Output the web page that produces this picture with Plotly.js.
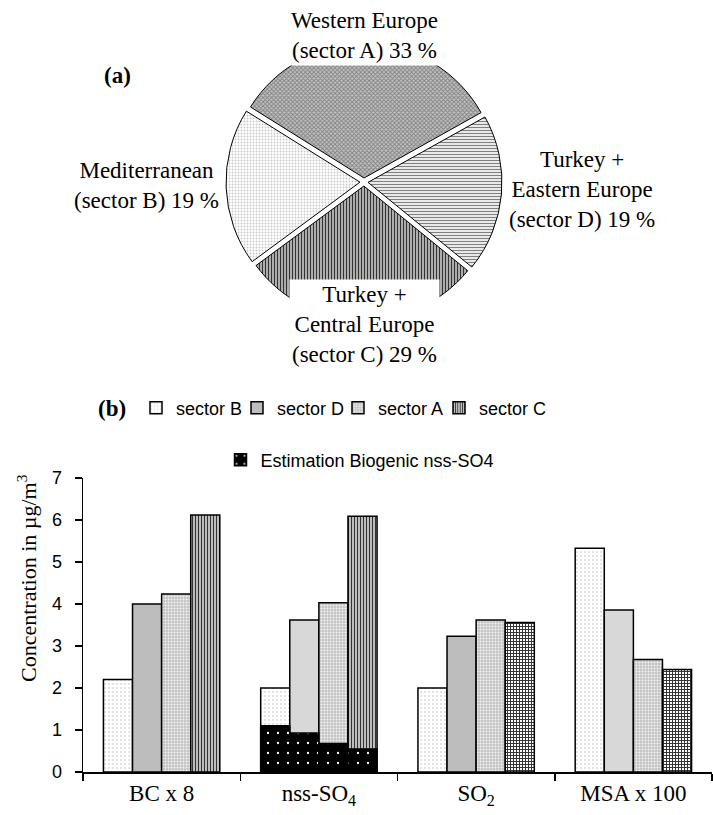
<!DOCTYPE html>
<html><head><meta charset="utf-8">
<script src="https://cdn.plot.ly/plotly-3.0.1.min.js"></script>
<style>html,body{margin:0;padding:0;background:#fff}#chart{width:713px;height:815px}</style>
</head><body><div id="chart"></div>
<script>
// ---- Pie (a) data ----
const pieLabels = ['Western Europe', 'Turkey + Eastern Europe', 'Turkey + Central Europe', 'Mediterranean'];
const pieSectors = ['A', 'D', 'C', 'B'];
const pieValues = [33, 19, 29, 19];
const pieTexts = [
  'Western Europe<br>(sector A) 33 %',
  'Turkey +<br>Eastern Europe<br>(sector D) 19 %',
  'Turkey +<br>Central Europe<br>(sector C) 29 %',
  'Mediterranean<br>(sector B) 19 %'
];

// ---- Bar (b) data ----
const categories = ['BC x 8', 'nss-SO<sub>4</sub>', 'SO<sub>2</sub>', 'MSA x 100'];
const sectorB = [2.2, 2.0, 2.0, 5.33];
const sectorD = [4.0, 3.62, 3.23, 3.86];
const sectorA = [4.24, 4.03, 3.62, 2.68];
const sectorC = [6.12, 6.09, 3.56, 2.44];
const biogenicCategory = 'nss-SO<sub>4</sub>';
const biogenic = [1.1, 0.93, 0.68, 0.55]; // sector B, D, A, C
const yTicks = [0, 1, 2, 3, 4, 5, 6, 7];

const W = 713, H = 815;
const px = x => x / W, py = y => 1 - y / H;

const serif = 'Liberation Serif, Times New Roman, serif';
const sans = 'Liberation Sans, Arial, sans-serif';

const pie = {
  type: 'pie',
  labels: pieLabels,
  values: pieValues,
  sort: false,
  direction: 'clockwise',
  rotation: -58,
  pull: 0.03,
  textinfo: 'none',
  hoverinfo: 'none',
  showlegend: false,
  domain: {x: [px(226), px(502)], y: [py(320), py(44)]},
  marker: {
    colors: ['#bbbbbb', '#ffffff', '#ffffff', '#ffffff'],
    line: {color: '#000', width: 1},
    pattern: {
      shape: ['x', '-', '|', '.'],
      fgcolor: ['#808080', '#808080', '#333333', '#c8c8c8'],
      bgcolor: ['#c4c4c4', '#ffffff', '#ffffff', '#ffffff'],
      size: [3, 3, 3, 3],
      solidity: [0.5, 0.45, 0.6, 0.3]
    }
  }
};

const lineSpec = {color: '#000', width: 1.5};
const mk = (name, vals, marker) => ({
  type: 'bar', name: name, x: categories, y: vals,
  offsetgroup: name, legend: 'legend', hoverinfo: 'none',
  marker: Object.assign({line: lineSpec}, marker)
});

const trB = mk('sector B', sectorB, {
  color: '#ffffff',
  pattern: {shape: '.', fgcolor: '#dadada', bgcolor: '#ffffff', size: 4, solidity: 0.2}
});
const trD = mk('sector D', sectorD, {
  color: ['#bdbdbd', '#d8d8d8', '#bdbdbd', '#d8d8d8']
});
const trA = mk('sector A', sectorA, {
  color: '#c8c8c8',
  pattern: {shape: '.', fgcolor: '#f4f4f4', bgcolor: '#c4c4c4', size: 3, solidity: 0.35}
});
const trC = mk('sector C', sectorC, {
  color: '#ffffff',
  pattern: {shape: ['|', '|', '+', '+'], fgcolor: '#333333', bgcolor: '#ffffff', size: 3, solidity: 0.55}
});

// invisible spacer entry so the last legend label is not clipped
const spacer = {type: 'bar', name: ' ', x: [categories[0]], y: [0], offsetgroup: 'sector B',
  legend: 'legend', hoverinfo: 'none', marker: {color: 'rgba(0,0,0,0)', line: {width: 0}}};

const groups = ['sector B', 'sector D', 'sector A', 'sector C'];
const bioTraces = groups.map((g, i) => ({
  type: 'bar', name: 'Estimation Biogenic nss-SO4', x: [biogenicCategory], y: [biogenic[i]],
  offsetgroup: g, legend: 'legend2', showlegend: i === 0, hoverinfo: 'none',
  marker: {color: '#000', line: {color: '#000', width: 1.5},
           pattern: {shape: '.', fgcolor: '#ffffff', bgcolor: '#000000', size: 10, solidity: 0.04}}
}));

const annFont = {family: serif, size: 23, color: '#000'};
const annotations = [
  {text: pieTexts[0], x: px(364), y: py(36)},
  {text: pieTexts[1], x: px(582), y: py(189)},
  {text: pieTexts[2], x: px(364), y: py(325)},
  {text: pieTexts[3], x: px(146), y: py(185)}
].map(a => Object.assign({xref: 'paper', yref: 'paper', showarrow: false, xanchor: 'center', yanchor: 'middle',
  bgcolor: '#ffffff', font: annFont, borderpad: 2}, a));
annotations.push({text: '<b>(a)</b>', x: px(117), y: py(75), xref: 'paper', yref: 'paper', showarrow: false,
  font: annFont, xanchor: 'center', yanchor: 'middle'});
annotations.push({text: '<b>(b)</b>', x: px(112), y: py(408), xref: 'paper', yref: 'paper', showarrow: false,
  font: annFont, xanchor: 'center', yanchor: 'middle'});
annotations.push({text: 'Concentration in µg/m<sup>3</sup>', x: px(27), y: py(578), xref: 'paper', yref: 'paper',
  showarrow: false, textangle: -90, xanchor: 'center', yanchor: 'middle',
  font: {family: serif, size: 22, color: 'black'}});

const layout = {
  width: W, height: H,
  margin: {l: 0, r: 0, t: 0, b: 0},
  paper_bgcolor: '#fff', plot_bgcolor: '#fff',
  barmode: 'group', bargap: 0.26, bargroupgap: 0,
  font: {family: sans, size: 18, color: '#000'},
  xaxis: {
    domain: [px(83), px(712)], type: 'category', tickson: 'boundaries',
    ticks: 'outside', ticklen: 7, tickcolor: '#000', tickwidth: 1.5,
    showline: true, linecolor: '#000', linewidth: 1.5, showgrid: false,
    tickfont: {family: serif, size: 23, color: '#000'}, fixedrange: true
  },
  yaxis: {
    domain: [py(772), py(478)], range: [0, 7], tickvals: yTicks,
    ticks: 'outside', ticklen: 7, tickcolor: '#000', tickwidth: 1.5,
    ticklabelstandoff: 9,
    showline: true, linecolor: '#000', linewidth: 1.5, showgrid: false, zeroline: false,
    tickfont: {family: sans, size: 18, color: '#000'},
    fixedrange: true
  },
  legend: {orientation: 'h', x: px(136), xanchor: 'left', y: py(408), yanchor: 'middle',
           font: {family: sans, size: 18, color: '#000'}, bgcolor: 'rgba(0,0,0,0)',
           itemwidth: 30, entrywidth: 56, traceorder: 'normal'},
  legend2: {orientation: 'h', x: px(360), xanchor: 'center', y: py(460), yanchor: 'middle',
            font: {family: sans, size: 18, color: '#000'}, bgcolor: 'rgba(0,0,0,0)'},
  annotations: annotations
};

Plotly.newPlot('chart', [pie, trB, trD, trA, trC, spacer].concat(bioTraces), layout, {displayModeBar: false, staticPlot: true});
</script></body></html>
